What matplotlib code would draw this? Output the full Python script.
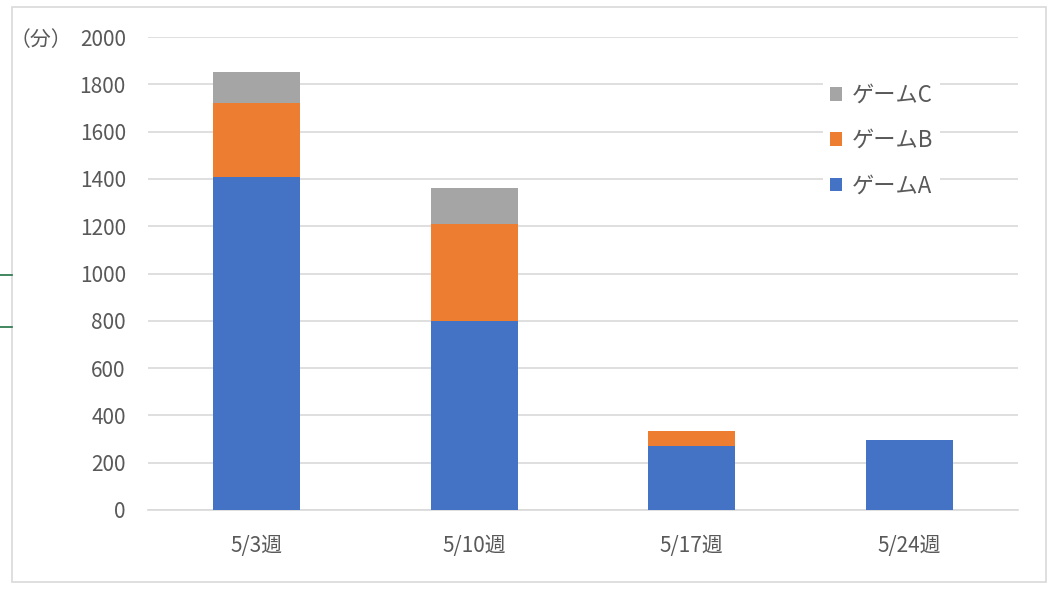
import matplotlib
matplotlib.use("Agg")
import matplotlib.pyplot as plt
from matplotlib.patches import Rectangle
from matplotlib.lines import Line2D

plt.rcParams['font.family'] = ['Noto Sans CJK JP', 'DejaVu Sans']

categories = ["5/3週", "5/10週", "5/17週", "5/24週"]
game_a = [1410, 800, 270, 295]
game_b = [310, 410, 65, 0]
game_c = [130, 150, 0, 0]
series_names = ["ゲームA", "ゲームB", "ゲームC"]
colors = ["#4472C4", "#ED7D31", "#A5A5A5"]
yticks = [0, 200, 400, 600, 800, 1000, 1200, 1400, 1600, 1800, 2000]

W, H = 1055, 592
fig = plt.figure(figsize=(W / 100, H / 100), dpi=100)
ax = fig.add_axes([148 / W, 1 - 510 / H, (1018 - 148) / W, (510 - 37) / H])

x = list(range(len(categories)))
bottom_b = game_a
bottom_c = [a + b for a, b in zip(game_a, game_b)]
ba = ax.bar(x, game_a, width=0.4, color=colors[0], label=series_names[0], zorder=3)
bb = ax.bar(x, game_b, width=0.4, bottom=bottom_b, color=colors[1], label=series_names[1], zorder=3)
bc = ax.bar(x, game_c, width=0.4, bottom=bottom_c, color=colors[2], label=series_names[2], zorder=3)

ax.set_xlim(-0.5, len(categories) - 0.5)
ax.set_ylim(0, 2000)
ax.set_yticks(yticks)
ax.set_yticklabels([str(v) for v in yticks])
ax.set_xticks(x)
ax.set_xticklabels(categories)
ax.yaxis.grid(True, color="#D9D9D9", linewidth=1.2, zorder=0)
ax.set_axisbelow(True)
for s in ["top", "right", "left"]:
    ax.spines[s].set_visible(False)
ax.spines["bottom"].set_color("#D9D9D9")
ax.spines["bottom"].set_linewidth(1.2)
ax.tick_params(axis="both", length=0, colors="#595959", labelsize=15)
ax.tick_params(axis="y", pad=16)
ax.tick_params(axis="x", pad=18)

fig.text(10 / W, 1 - 40 / H, "（分）", fontsize=15, color="#595959", va="center", ha="left")

leg = ax.legend(handles=[bc, bb, ba], labels=[series_names[2], series_names[1], series_names[0]],
                loc="upper left", bbox_to_anchor=(812 / W, 1 - 66 / H), bbox_transform=fig.transFigure,
                frameon=True, fancybox=False, edgecolor="none", facecolor="white", framealpha=1,
                fontsize=16, handlelength=0.55, handleheight=0.55, handletextpad=0.45,
                labelspacing=1.0, borderpad=0.3)
for t in leg.get_texts():
    t.set_color("#595959")

# outer chart border
fig.patches.append(Rectangle((12 / W, 1 - 582 / H), (1046 - 12) / W, (582 - 7) / H,
                             transform=fig.transFigure, fill=False, edgecolor="#D9D9D9", linewidth=1.2))
# selection marks at left edge
for yy in [275, 327]:
    fig.lines.append(Line2D([0, 12 / W], [1 - yy / H, 1 - yy / H], transform=fig.transFigure,
                            color="#217346", linewidth=1.2))

fig.savefig("out.png", dpi=100)
